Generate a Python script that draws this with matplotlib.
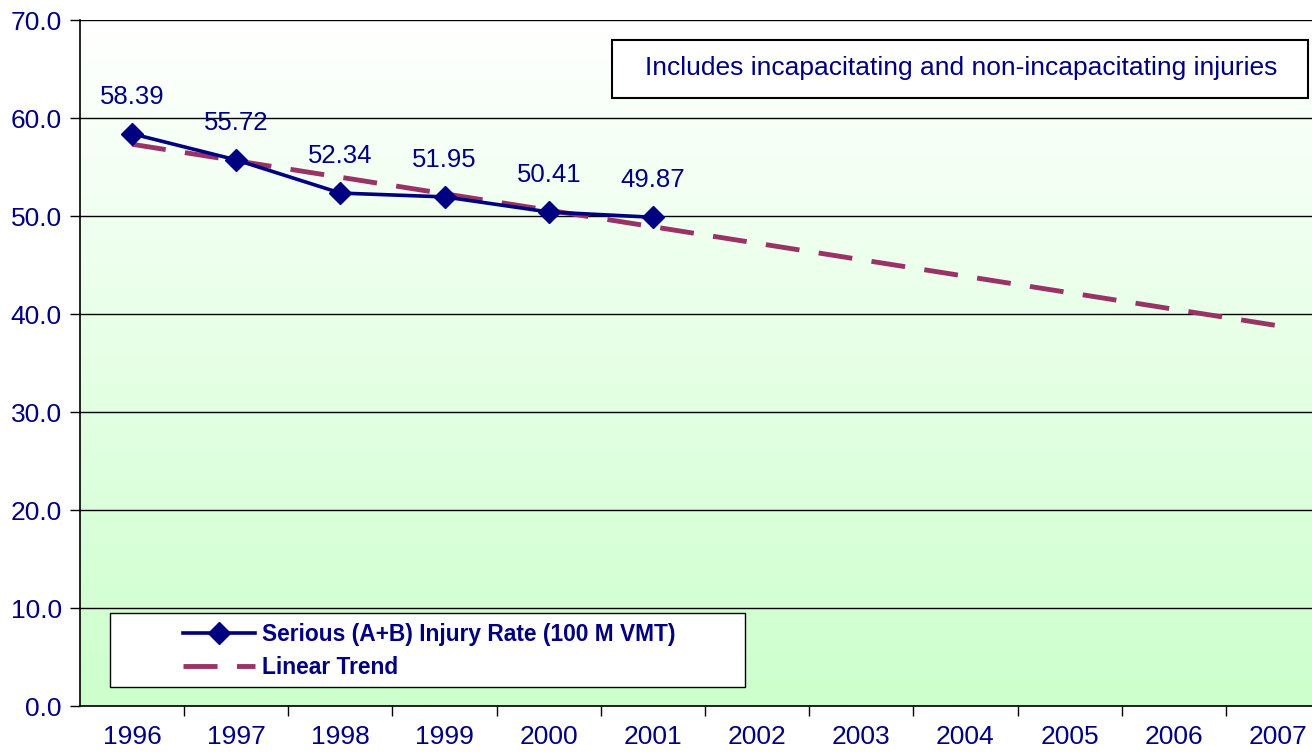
import numpy as np
import matplotlib.pyplot as plt
from matplotlib.patches import Rectangle

years = ['1996', '1997', '1998', '1999', '2000', '2001',
         '2002', '2003', '2004', '2005', '2006', '2007']
injury_rate = [58.39, 55.72, 52.34, 51.95, 50.41, 49.87]
y_ticks = [0, 10, 20, 30, 40, 50, 60, 70]

navy = '#000080'
plum = '#993366'
plt.rcParams['font.family'] = ['Liberation Sans Narrow', 'Liberation Sans', 'DejaVu Sans']

W, H = 1312, 754
fig = plt.figure(figsize=(W / 100, H / 100), dpi=100)
ax = fig.add_axes([80 / W, 1 - 706 / H, 1250 / W, 686 / H])

# background gradient: white at top to light green at bottom
grad = np.linspace(0, 1, 256).reshape(-1, 1)
top = np.array([1.0, 1.0, 1.0])
bot = np.array([0.80, 1.0, 0.80])
img = top + (bot - top) * grad[:, :, None]
ax.imshow(img, extent=[0, 1, 0, 1], transform=ax.transAxes, aspect='auto', zorder=0)

x = np.arange(len(years))
xd = x[:len(injury_rate)]

# linear trend fitted on the observed years, extended to all categories
coef = np.polyfit(xd, injury_rate, 1)
trend = np.polyval(coef, x)

ax.plot(x, trend, color=plum, lw=3.5, dashes=(7, 4), zorder=3, label='Linear Trend')
ax.plot(xd, injury_rate, color=navy, lw=2.6, marker='D', ms=11, zorder=4,
        label='Serious (A+B) Injury Rate (100 M VMT)')

for xi, v in zip(xd, injury_rate):
    ax.annotate(f'{v:.2f}', (xi, v), xytext=(0, 37), textcoords='offset pixels',
                ha='center', va='center', color=navy, fontsize=18.5)

ax.set_xlim(-0.5, len(years) - 0.5)
ax.set_ylim(0, 70)
ax.set_yticks(y_ticks)
ax.set_yticklabels([f'{v:.1f}' for v in y_ticks], color=navy, fontsize=19)
ax.set_xticks(x)
ax.set_xticklabels(years, color=navy, fontsize=19)
ax.set_xticks(x[:-1] + 0.5, minor=True)
ax.tick_params(axis='x', which='major', length=0, pad=14)
ax.tick_params(axis='x', which='minor', length=7, width=1, direction='out')
ax.tick_params(axis='y', length=7, width=1, direction='out', pad=6)

ax.grid(axis='y', color='black', lw=1)
ax.set_axisbelow(False)
for s in ['top', 'right']:
    ax.spines[s].set_visible(False)
for s in ['left', 'bottom']:
    ax.spines[s].set_linewidth(1.2)

# note box
fig.patches.append(Rectangle((612 / W, 1 - 98 / H), 696 / W, 58 / H, transform=fig.transFigure,
                             facecolor='white', edgecolor='black', lw=1.5, zorder=5))
fig.text(961 / W, 1 - 68 / H, 'Includes incapacitating and non-incapacitating injuries',
         ha='center', va='center', color=navy, fontsize=19, zorder=6)

# legend box
fig.patches.append(Rectangle((110 / W, 1 - 687 / H), 635 / W, 74 / H, transform=fig.transFigure,
                             facecolor='white', edgecolor='black', lw=1, zorder=5))
handles, labels = ax.get_legend_handles_labels()
leg = fig.legend(handles[::-1], labels[::-1], loc='upper left',
                 bbox_to_anchor=(162 / W, 1 - 602 / H), frameon=False,
                 prop={'weight': 'bold', 'size': 16.4}, handlelength=3.2,
                 handletextpad=0.3, labelspacing=0.45)
leg.set_zorder(7)
for t in leg.get_texts():
    t.set_color(navy)

fig.savefig('out.png', dpi=100)
